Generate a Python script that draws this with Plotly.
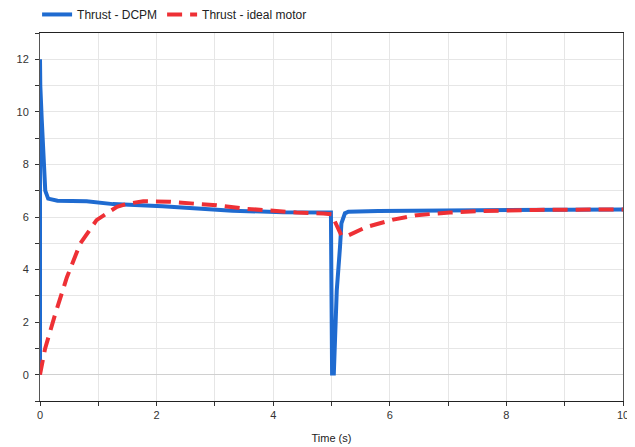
import plotly.graph_objects as go

# Thrust - DCPM
t_dcpm = [0, 0, 0.005, 0.03, 0.06, 0.09, 0.14, 0.3, 0.8, 1.25, 2.1, 2.74, 3.3, 4.17, 4.99,
          5.0, 5.01, 5.04, 5.06, 5.09, 5.146, 5.17, 5.23, 5.29, 5.8, 7.0, 8.0, 9.0, 10.0]
v_dcpm = [0, 12, 11, 9.7, 8.0, 7.0, 6.7, 6.62, 6.6, 6.49, 6.41, 6.32, 6.24, 6.18, 6.17,
          3.0, 0.05, 0.05, 1.95, 3.2, 4.86, 5.76, 6.14, 6.2, 6.23, 6.24, 6.26, 6.28, 6.29]

# Thrust - ideal motor
t_ideal = [0, 0.086, 0.26, 0.46, 0.69, 0.97, 1.32, 1.49, 1.77, 2.23, 2.69, 3.03, 3.49,
           3.95, 4.4, 4.86, 5.0, 5.17, 5.29, 5.6, 6.06, 6.46, 7.03, 7.6, 8.5, 10.0]
v_ideal = [0, 0.98, 2.3, 3.7, 4.99, 5.88, 6.39, 6.5, 6.6, 6.58, 6.5, 6.45, 6.32,
           6.23, 6.17, 6.13, 6.1, 5.3, 5.3, 5.62, 5.9, 6.07, 6.17, 6.23, 6.27, 6.29]

fig = go.Figure()
fig.add_trace(go.Scatter(x=t_dcpm, y=v_dcpm, mode="lines", name="Thrust - DCPM",
                         line=dict(color="#1f6bd0", width=4)))
fig.add_trace(go.Scatter(x=t_ideal, y=v_ideal, mode="lines", name="Thrust - ideal motor",
                         line=dict(color="#ee3035", width=4, dash="15px,8px")))

grid = "#e6e6e6"
fig.update_layout(
    width=627, height=439,
    margin=dict(l=32, r=12, t=25, b=46, autoexpand=False),
    paper_bgcolor="white", plot_bgcolor="white",
    font=dict(family="Liberation Sans, Arial, sans-serif", size=11, color="#333"),
    legend=dict(orientation="h", x=-0.005, y=1.011, xanchor="left", yanchor="bottom",
                bgcolor="rgba(0,0,0,0)",
                font=dict(size=12, color="#222"), itemwidth=30),
    xaxis=dict(range=[0, 10], dtick=2, showgrid=True, gridcolor=grid,
               ticks="outside", ticklen=4, tickcolor="#333",
               showline=True, linecolor="#222", linewidth=1, mirror=True,
               zeroline=False, ticklabelstandoff=0,
               minor=dict(dtick=1, showgrid=True, gridcolor=grid, ticks="outside",
                          ticklen=4, tickcolor="#333"),
               title=dict(text="Time (s)", font=dict(size=11, color="#222"), standoff=14)),
    yaxis=dict(range=[-1, 13], dtick=2, showgrid=True, gridcolor=grid,
               ticks="outside", ticklen=4, tickcolor="#333",
               showline=True, linecolor="#555", linewidth=1, mirror=True,
               zeroline=True, zerolinecolor="#d0d0d0", zerolinewidth=1,
               ticklabelstandoff=4,
               minor=dict(dtick=1, showgrid=True, gridcolor=grid, ticks="outside",
                          ticklen=4, tickcolor="#333")),
)
fig.write_html("out.html")
